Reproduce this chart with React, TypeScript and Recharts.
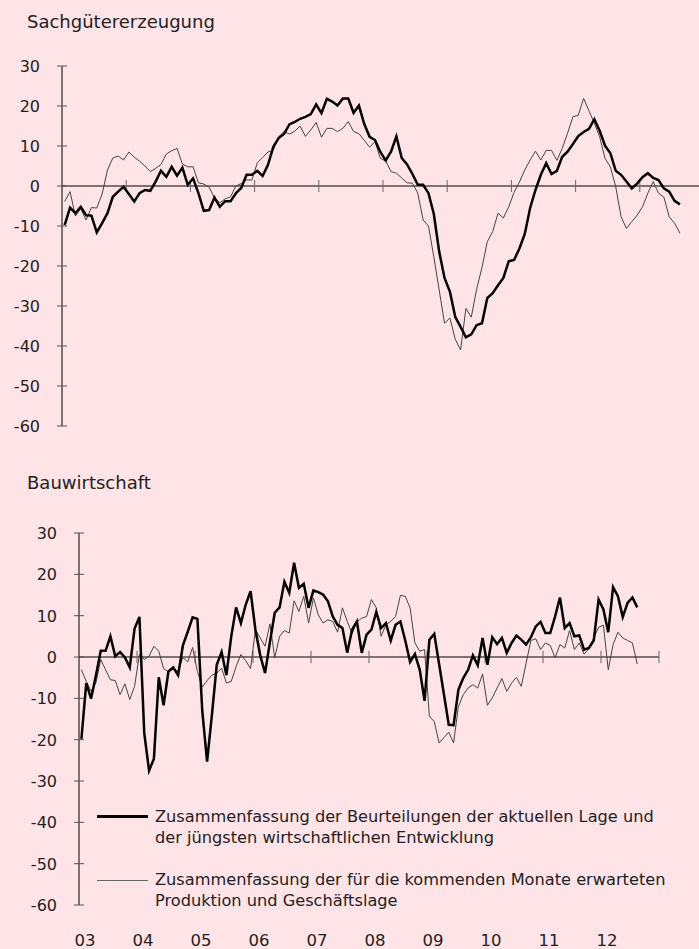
import React from 'react';
import { LineChart, Line, XAxis, YAxis, ReferenceLine } from 'recharts';

// Monthly series, Jan 2003 – Aug 2012 (116 months)
const topCurrent = [
  -9.8, -5.4, -6.8, -5.2, -7.3, -7.4, -11.6, -9.3, -6.8, -2.7,
  -1.4, -0.2, -2, -3.9, -1.8, -1, -1.2, 1.1, 3.8, 2.3,
  4.8, 2.6, 4.6, 0.3, 1.9, -1.8, -6.2, -6, -2.9, -5.2,
  -3.8, -3.8, -1.8, -0.5, 2.8, 2.8, 3.8, 2.5, 5.3, 9.8,
  12, 13, 15.4, 16, 16.8, 17.3, 18, 20.4, 18.2, 21.8,
  21.1, 20.1, 21.9, 21.9, 18.3, 20.1, 15.5, 12.3, 11.5, 8.5,
  6.4, 8.6, 12.4, 7, 5.4, 3, 0.3, 0.3, -1.8, -7,
  -16.4, -23, -26.4, -32.7, -35.2, -37.8, -37.1, -34.8, -34.3, -28,
  -26.8, -24.8, -23, -18.8, -18.5, -15.6, -12, -5.5, -1, 2.8,
  5.7, 3, 3.8, 7.3, 8.6, 10.5, 12.5, 13.5, 14.3, 16.7,
  13.8, 10.1, 8.2, 3.8, 2.8, 1.1, -0.6, 0.6, 2.2, 3.2,
  2, 1.5, -0.6, -1.4, -3.7, -4.6,
];

const topExpect = [
  -3.9, -1.4, -7.5, -5.7, -8.5, -5.4, -5.5, -2, 4, 7,
  7.5, 6.5, 8.5, 7.2, 6.2, 5, 3.6, 4.4, 5.4, 8,
  8.8, 9.4, 5.5, 4.8, 4.8, 0.8, 0.5, -0.3, -3, -4.2,
  -3.2, -2.7, 0, 0.6, 1.5, 1.5, 5.8, 7.1, 8.5, 9,
  12.3, 13.6, 13, 13.7, 15, 12.4, 14, 15.9, 12.2, 14.4,
  14.4, 13.6, 14.4, 16.1, 13.6, 13.1, 11.4, 9.7, 11.1, 6.9,
  6.3, 3.6, 3.2, 2, 0.8, 0.7, -1.8, -8.5, -10, -17.7,
  -26, -34.3, -33, -38.3, -41, -30.6, -32.8, -25.8, -20.4, -13.9,
  -11.4, -6.8, -8, -5.2, -1.6, 1, 4, 6.5, 8.7, 6.5,
  8.9, 8.9, 6.4, 9.4, 13.2, 17.3, 17.7, 21.9, 18.8, 15.7,
  12.3, 6.9, 4.8, -0.2, -7.7, -10.6, -8.9, -7.3, -5.2, -1.8,
  1.1, -1.8, -2.8, -7.7, -9.3, -11.8,
];

const bauCurrent = [
  -19.8, -6.3, -10.1, -4.5, 1.5, 1.5, 5, 0.2, 1.2, -0.1,
  -2.5, 6.9, 9.7, -18.4, -27.5, -24.6, -4.9, -11.7, -3.5, -2.5,
  -4.4, 2.8, 6.1, 9.6, 9.2, -13, -25.3, -14, -1.9, 1.2,
  -4.4, 5, 12, 8.2, 12.7, 15.9, 6.6, 0.4, -3.9, 3.6,
  10.7, 12, 18.2, 15.5, 22.8, 16.7, 17.7, 11.9, 16.1, 15.7,
  15.1, 13.5, 9.8, 7.8, 7, 1, 6.6, 8.6, 1, 5.4,
  6.6, 10.9, 7, 8.2, 4, 7.8, 8.6, 4, -1.2, 0.7,
  -3.1, -10.6, 4.2, 5.6, -1.7, -9, -16.4, -16.5, -7.9, -5.1,
  -3.1, 0.4, -2, 4.6, -1.9, 4.8, 3.1, 4.6, 1, 3.4,
  5.2, 4.2, 3, 4.8, 7.4, 8.5, 5.8, 5.8, 9.8, 14.4,
  7, 8.2, 5, 5.2, 1.8, 2.2, 4, 13.9, 11.5, 6,
  16.9, 14.7, 9.7, 13.1, 14.4, 12,
];

const bauExpect = [
  -3.1, -5.9, -8.3, -6.3, -0.6, -3.1, -5.5, -5.7, -9.1, -6.5,
  -10.3, -7.1, 0.6, -0.6, 0.2, 2.6, 1.4, -2.8, -3.6, -2.9,
  -3.5, -0.1, -1.2, 2.3, -3.5, -7.3, -5.7, -4.4, -3.9, -2.7,
  -6.3, -5.9, -2.3, 0.6, -0.9, -2.8, 6.6, 4.6, 2.6, 8,
  -0.2, 5, 6.4, 5.8, 13.6, 11, 14.7, 8.2, 14.3, 10.2,
  8.2, 9, 8.6, 6, 11.9, 8.6, 5.6, 8.5, 9.4, 9.8,
  13.9, 11.9, 5, 7.8, 8.6, 9.8, 14.9, 14.7, 11.9, 3.4,
  1.4, 1.8, -14.4, -15.6, -20.8, -19.5, -18.2, -20.8, -12, -9.1,
  -7.5, -6.7, -7.5, -4.1, -11.7, -9.9, -7.5, -5.2, -8.3, -6.3,
  -4.9, -7.1, -1.5, 4, 4.4, 1.8, 3.4, 2.8, -0.2, 3,
  2.2, 6.4, 1.8, 3.4, 0.7, 2, 4.6, 7.2, 7.7, -3.1,
  3, 6, 4.6, 4, 3.4, -1.7,
];

const yearLabels = ['03', '04', '05', '06', '07', '08', '09', '10', '11', '12'];
const yTicks = [-60, -50, -40, -30, -20, -10, 0, 10, 20, 30];
const yearBounds = [12, 24, 36, 48, 60, 72, 84, 96, 108, 120];

const topData = topCurrent.map((v, i) => ({ t: i + 0.5, cur: v, exp: topExpect[i] }));
const bauData = bauCurrent.map((v, i) => ({ t: i + 0.5, cur: v, exp: bauExpect[i] }));

const FONT = '"DejaVu Sans", sans-serif';
const BG = '#FFE4E7';

const YTick = (props: any) => {
  const { x, y, payload } = props;
  return (
    <g>
      <line x1={x - 5} x2={x + 5} y1={y} y2={y} stroke="#555" strokeWidth={1} />
      <text x={x - 22} y={y} dy={6} textAnchor="end" fontFamily={FONT} fontSize={16} fill="#222">
        {payload.value}
      </text>
    </g>
  );
};

const XTick = (props: any) => {
  const { x, y, index } = props;
  return (
    <text x={x + 6} y={y} dy={41} textAnchor="middle" fontFamily={FONT} fontSize={16.5} fill="#222">
      {yearLabels[index]}
    </text>
  );
};

const yearTickLines = (max: number) =>
  yearBounds.filter((b) => b <= max).map((b) => (
    <ReferenceLine
      key={'yt' + b}
      segment={[{ x: b, y: -1.5 }, { x: b, y: 1.5 }]}
      stroke="#666"
      strokeWidth={1}
    />
  ));

export default function App() {
  return (
    <div
      style={{
        position: 'absolute',
        left: 0,
        top: 0,
        width: 699,
        height: 949,
        overflow: 'hidden',
        background: BG,
        fontFamily: FONT,
      }}
    >
      <div style={{ position: 'absolute', left: 27, top: 11, fontSize: 18, color: '#222', whiteSpace: 'nowrap' }}>
        Sachgütererzeugung
      </div>
      <div style={{ position: 'absolute', left: 27, top: 472, fontSize: 18, color: '#222', whiteSpace: 'nowrap' }}>
        Bauwirtschaft
      </div>

      <div style={{ position: 'absolute', left: 0, top: 0 }}>
        <LineChart width={714} height={436} data={topData} margin={{ top: 66, right: 10, bottom: 10, left: 0 }}>
          <XAxis dataKey="t" type="number" domain={[0, 120]} hide height={0} />
          <YAxis
            type="number"
            domain={[-60, 30]}
            ticks={yTicks}
            width={62}
            interval={0}
            tickSize={0}
            tickMargin={0}
            tickLine={false}
            axisLine={{ stroke: '#000', strokeWidth: 1 }}
            tick={<YTick />}
          />
          <ReferenceLine y={0} stroke="#000" strokeWidth={1} />
          {yearTickLines(108)}
          <Line dataKey="exp" stroke="#444" strokeWidth={1} dot={false} isAnimationActive={false} />
          <Line dataKey="cur" stroke="#000" strokeWidth={2.5} dot={false} isAnimationActive={false} />
        </LineChart>
      </div>

      <div style={{ position: 'absolute', left: 0, top: 0 }}>
        <LineChart width={679} height={949} data={bauData} margin={{ top: 533, right: 20, bottom: 0, left: 0 }}>
          <XAxis
            dataKey="t"
            type="number"
            domain={[0, 120]}
            ticks={[0, 12, 24, 36, 48, 60, 72, 84, 96, 108]}
            interval={0}
            height={44}
            tickSize={0}
            tickMargin={0}
            tickLine={false}
            axisLine={false}
            tick={<XTick />}
          />
          <YAxis
            type="number"
            domain={[-60, 30]}
            ticks={yTicks}
            width={79}
            interval={0}
            tickSize={0}
            tickMargin={0}
            tickLine={false}
            axisLine={{ stroke: '#000', strokeWidth: 1 }}
            tick={<YTick />}
          />
          <ReferenceLine y={0} stroke="#000" strokeWidth={1} />
          {yearTickLines(120)}
          <Line dataKey="exp" stroke="#444" strokeWidth={1} dot={false} isAnimationActive={false} />
          <Line dataKey="cur" stroke="#000" strokeWidth={2.5} dot={false} isAnimationActive={false} />
        </LineChart>
      </div>

      {/* Legend */}
      <div style={{ position: 'absolute', left: 97, top: 815, width: 51, height: 2.5, background: '#000' }} />
      <div style={{ position: 'absolute', left: 155, top: 806, fontSize: 16.2, lineHeight: '21px', color: '#222', whiteSpace: 'nowrap' }}>
        Zusammenfassung der Beurteilungen der aktuellen Lage und
        <br />
        der jüngsten wirtschaftlichen Entwicklung
      </div>
      <div style={{ position: 'absolute', left: 97, top: 880, width: 51, height: 1, background: '#666' }} />
      <div style={{ position: 'absolute', left: 155, top: 869, fontSize: 16.2, lineHeight: '21px', color: '#222', whiteSpace: 'nowrap' }}>
        Zusammenfassung der für die kommenden Monate erwarteten
        <br />
        Produktion und Geschäftslage
      </div>
    </div>
  );
}
